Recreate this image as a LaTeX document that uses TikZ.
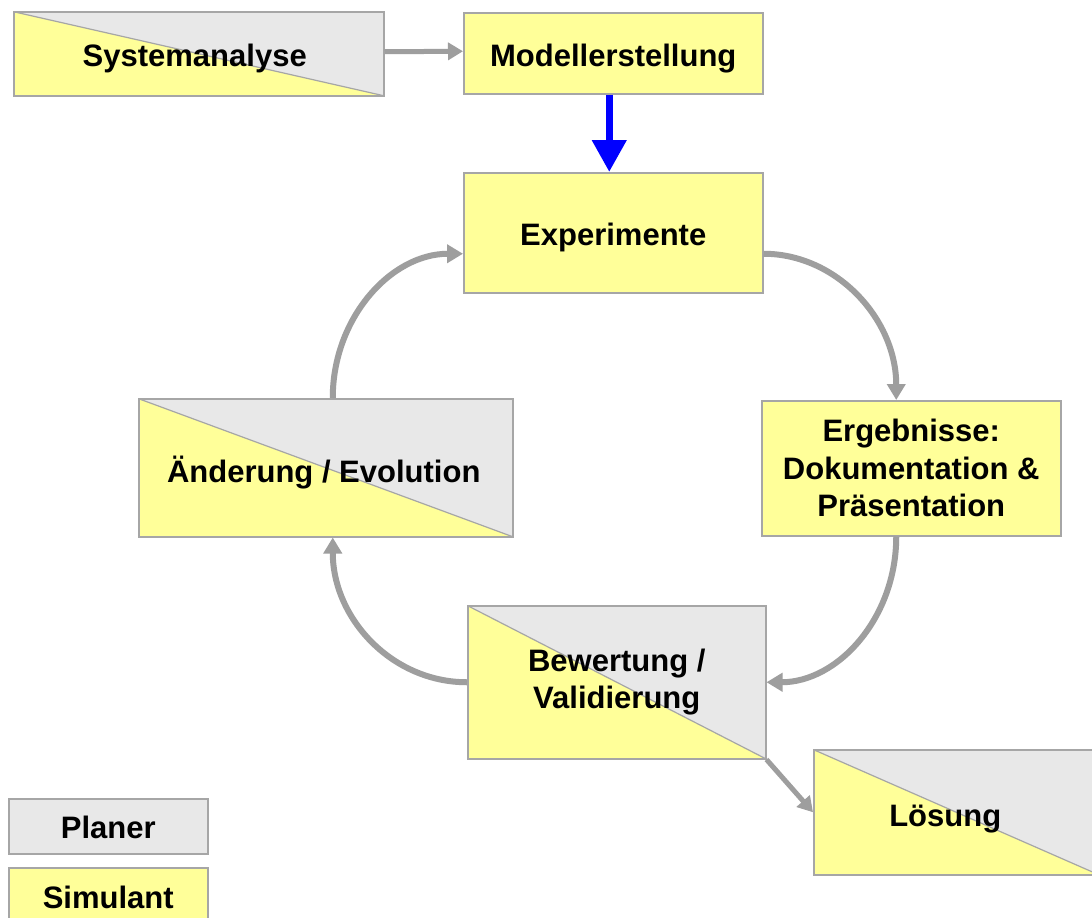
\documentclass[tikz,border=0pt]{standalone}
\usepackage{fontspec}
\setmainfont{Liberation Sans}
\usetikzlibrary{arrows.meta,calc}
\definecolor{boxyellow}{HTML}{FFFF99}
\definecolor{boxgray}{HTML}{E8E8E8}
\definecolor{edgegray}{HTML}{A6A6A6}
\definecolor{arrowgray}{HTML}{9E9E9E}
\definecolor{arrowblue}{HTML}{0000FF}
\tikzset{
  boxbase/.style={draw=edgegray, line width=1.5pt, inner sep=0pt, anchor=north west,
    font=\fontsize{31}{37.5}\selectfont\bfseries, text=black},
  oneline/.style={text height=26pt, text depth=0pt},
  multiline/.style={align=center},
  ybox/.style={boxbase, fill=boxyellow},
  gbox/.style={boxbase, fill=boxgray},
  splitbox/.style={boxbase, fill=boxgray,
    path picture={
      \fill[boxyellow] (path picture bounding box.north west) -- (path picture bounding box.south east) -- (path picture bounding box.south west) -- cycle;
      \draw[edgegray, line width=1.2pt] (path picture bounding box.north west) -- (path picture bounding box.south east);
    }},
  grayarrow/.style={draw=arrowgray, line width=6pt, -{Triangle[width=18pt,length=16pt]}},
  thingray/.style={draw=arrowgray, line width=5pt, -{Triangle[width=17pt,length=15pt]}},
  bluearrow/.style={draw=arrowblue, line width=7.5pt, -{Triangle[width=33pt,length=32pt]}}
}
\begin{document}
\begin{tikzpicture}[x=1pt,y=-1pt]
\fill[white] (0,0) rectangle (1092,918);
\useasboundingbox (0,0) rectangle (1092,918);

\node[splitbox, oneline, minimum width=370pt, minimum height=84pt] (sys) at (13,11) {Systemanalyse\kern8pt};
\node[ybox, oneline, minimum width=299pt, minimum height=81pt] (mod) at (463,12) {Modellerstellung};
\node[ybox, oneline, minimum width=299pt, minimum height=120pt] (exp) at (463,172) {Experimente};
\node[ybox, multiline, minimum width=299pt, minimum height=135pt] (erg) at (761,400) {Ergebnisse:\\Dokumentation \&\\Präsentation};
\node[splitbox, multiline, minimum width=298pt, minimum height=153pt] (bew) at (467,605) {Bewertung /\\Validierung};
\node[splitbox, oneline, text height=30pt, minimum width=374pt, minimum height=138pt] (aend) at (138,398) {Änderung / Evolution\kern4pt};
\node[splitbox, oneline, text height=28pt, minimum width=285pt, minimum height=125pt] (loes) at (813,749) {Lösung\kern22pt};
\node[gbox, oneline, text height=25pt, minimum width=199pt, minimum height=55pt] (planer) at (8,798) {Planer};
\node[ybox, oneline, text height=22pt, minimum width=199pt, minimum height=60pt] (sim) at (8,867) {Simulant};

\draw[thingray] ([yshift=2pt]sys.east) -- ([yshift=2pt]mod.west);
\draw[bluearrow] ([xshift=-4pt]mod.south) -- ([xshift=-4pt]exp.north);

\draw[grayarrow] ([yshift=-21pt]exp.east) .. controls +(73,0) and +(0,-81) .. ([xshift=-15pt]erg.north);
\draw[grayarrow] ([xshift=-15pt]erg.south) .. controls +(0,82) and +(71,0) .. (bew.east);
\draw[grayarrow] (bew.west) .. controls +(-75,0) and +(0,81) .. ([xshift=7pt]aend.south);
\draw[grayarrow] ([xshift=7pt]aend.north) .. controls +(0,-80) and +(-72,0) .. ([yshift=-21pt]exp.west);
\draw[thingray] (bew.south east) -- (loes.west);
\end{tikzpicture}
\end{document}
